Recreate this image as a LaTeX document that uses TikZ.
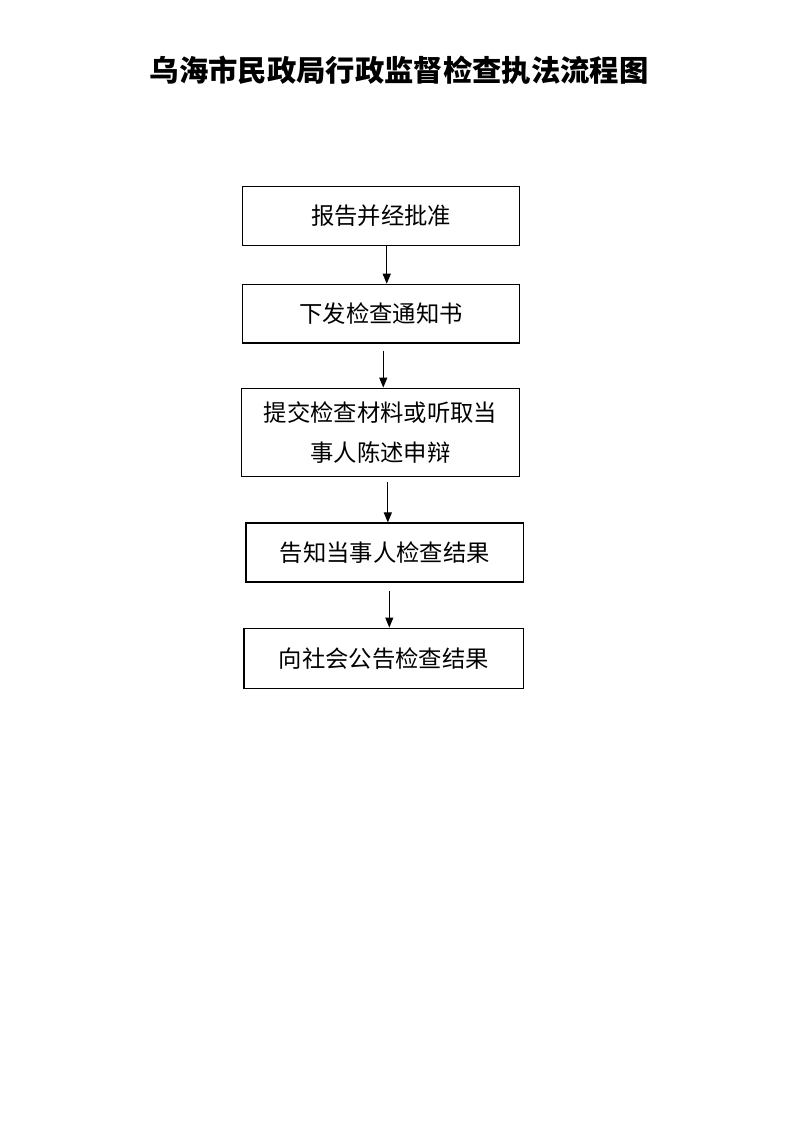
\documentclass[tikz,border=0pt]{standalone}
\usepackage{fontspec}
\setmainfont{Noto Sans CJK SC}
\usetikzlibrary{arrows.meta}
\tikzset{
    stepbox/.style={draw, line width=1.1pt, minimum width=208pt, minimum height=44pt,
                    inner sep=0pt, align=center, font=\fontsize{17.5}{30}\selectfont},
    flowarrow/.style={line width=0.75pt, -{Triangle[length=7.5pt,width=6pt]}}
}

\begin{document}
\begin{tikzpicture}[x=0.75pt, y=-0.75pt]
        \useasboundingbox (0, 0) rectangle (800, 1131);
        \node[font=\fontsize{22}{24}\selectfont\bfseries] (title) at (399, 70) {乌海市民政局行政监督检查执法流程图};
        \node[stepbox] (report) at (381, 216) {报告并经批准};
        \node[stepbox] (notice) at (381, 313.8) {下发检查通知书};
        \node[stepbox, minimum width=208.2pt, minimum height=66.3pt] (submit) at (380.5, 432.5)
            {提交检查材料或听取当\\事人陈述申辩};
        \node[stepbox] (inform) at (384.7, 552.5) {告知当事人检查结果};
        \node[stepbox, minimum width=209.5pt, minimum height=45pt] (publish) at (383.7, 658.3) {向社会公告检查结果};
        \foreach \a/\b/\s/\g in {report/notice/4.3/0, notice/submit/1.7/5.25,
                                 submit/inform/5.5/3.75, inform/publish/3.45/6}
        \draw[flowarrow, shorten <=\g pt] ([xshift=\s pt]\a.south) -- ([xshift=\s pt]\a.south |- \b.north);
        \end{tikzpicture}
\end{document}
